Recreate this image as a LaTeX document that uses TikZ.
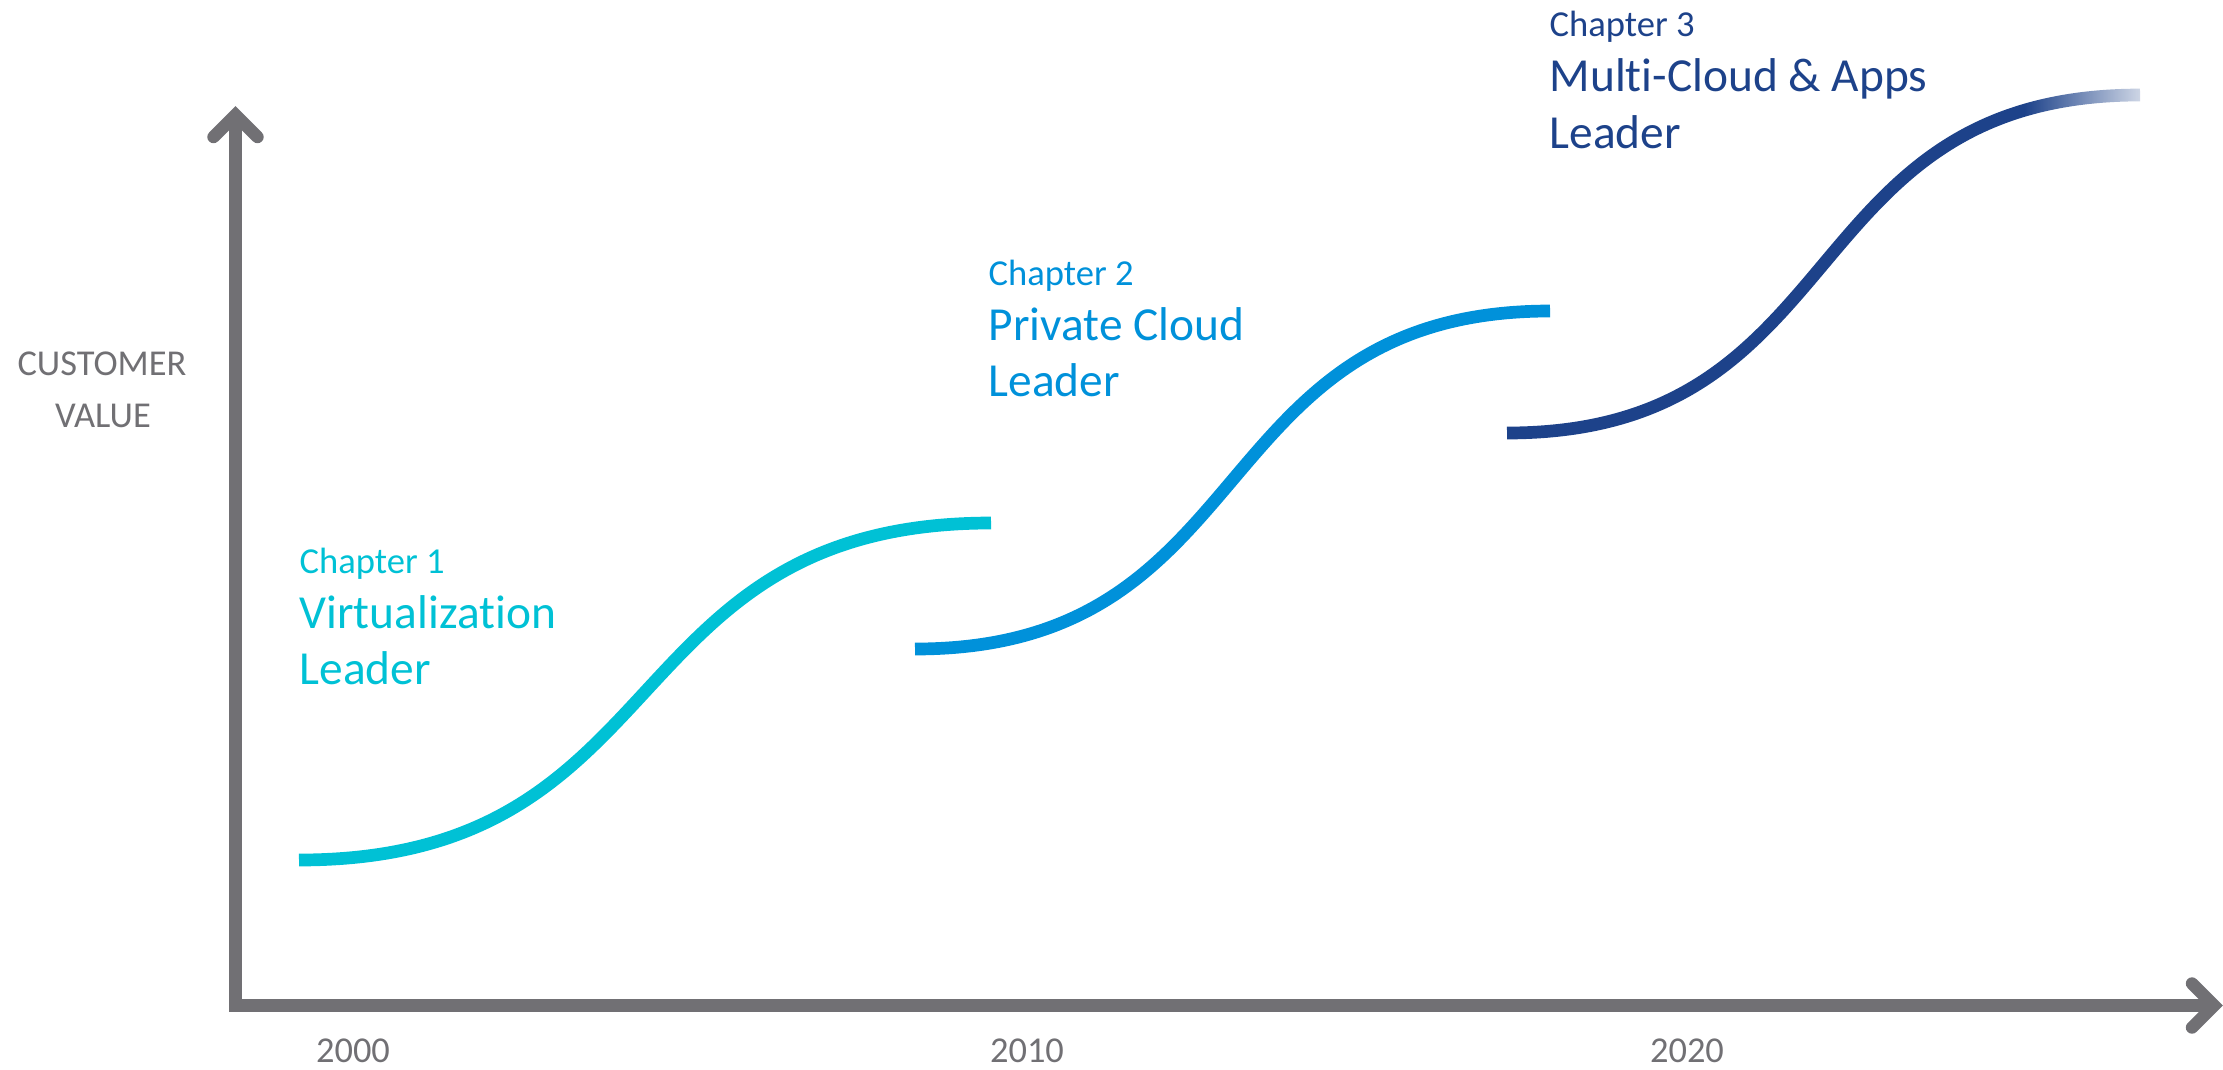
\documentclass[tikz,border=0pt]{standalone}
\usepackage{fontspec}
\setmainfont[Ligatures={NoCommon}]{Carlito}
\usetikzlibrary{fadings}
\definecolor{vmgray}{HTML}{717074}
\definecolor{aqua}{HTML}{00C1D5}
\definecolor{vmblue}{HTML}{0091DA}
\definecolor{navy}{HTML}{1D428A}
\begin{document}
\begin{tikzpicture}[x=0.01cm,y=-0.01cm,
  axis/.style={draw=vmgray, line width=3.53pt, line join=miter},
  barb/.style={draw=vmgray, line width=3.53pt, line cap=round, line join=miter},
  scurve/.style={line width=3.61pt, line cap=butt},
  axlabel/.style={anchor=base, inner sep=0pt, text=vmgray, font=\fontsize{10.36}{12}\selectfont},
  chapsmall/.style={anchor=base west, inner sep=0pt, font=\fontsize{10.4}{12}\selectfont},
  chapbig/.style={anchor=base west, inner sep=0pt, font=\fontsize{13.48}{16}\selectfont},
]
\useasboundingbox (0,0) rectangle (2223,1069);
% axes
\coordinate (O) at (235.5,1005.5);
\coordinate (ytip) at (235.5,115);
\coordinate (xtip) at (2214,1005.5);
\draw[axis] (ytip) -- (O) -- (xtip);
\draw[barb] ([shift={(-22,22)}]ytip) -- (ytip) -- ([shift={(22,22)}]ytip);
\draw[barb] ([shift={(-22,-22)}]xtip) -- (xtip) -- ([shift={(-22,22)}]xtip);
% axis labels
\node[axlabel] (cust) at (102,375) {CUSTOMER};
\node[axlabel] (val) at (103,427) {VALUE};
\node[axlabel] (y2000) at (353,1062) {2000};
\node[axlabel] (y2010) at (1027,1062) {2010};
\node[axlabel] (y2020) at (1687,1062) {2020};
% curves
\coordinate (s1) at (299,860);  \coordinate (e1) at (991,523);
\coordinate (s2) at (915,649);  \coordinate (e2) at (1550,311);
\coordinate (s3) at (1507,433); \coordinate (e3) at (2140,95);
\draw[scurve, aqua] (s1) .. controls (680,860) and (611,523) .. (e1);
\draw[scurve, vmblue] (s2) .. controls (1264,649) and (1201,311) .. (e2);
\draw[scurve, navy] (s3) .. controls (1856,433) and (1791,95) .. (e3);
\fill[white, path fading=west] (2024,60) rectangle (2172,130);
% chapter labels
\node[chapsmall, text=aqua] (c1a) at (299,573) {Chapter 1};
\node[chapbig, text=aqua] (c1b) at (299,628) {Virtualization};
\node[chapbig, text=aqua] (c1c) at (299,684) {Leader};
\node[chapsmall, text=vmblue] (c2a) at (988,285) {Chapter 2};
\node[chapbig, text=vmblue] (c2b) at (988,340) {Private Cloud};
\node[chapbig, text=vmblue] (c2c) at (988,396) {Leader};
\node[chapsmall, text=navy] (c3a) at (1549,36) {Chapter 3};
\node[chapbig, text=navy] (c3b) at (1549,91) {Multi-Cloud \& Apps};
\node[chapbig, text=navy] (c3c) at (1549,148) {Leader};
\end{tikzpicture}
\end{document}
